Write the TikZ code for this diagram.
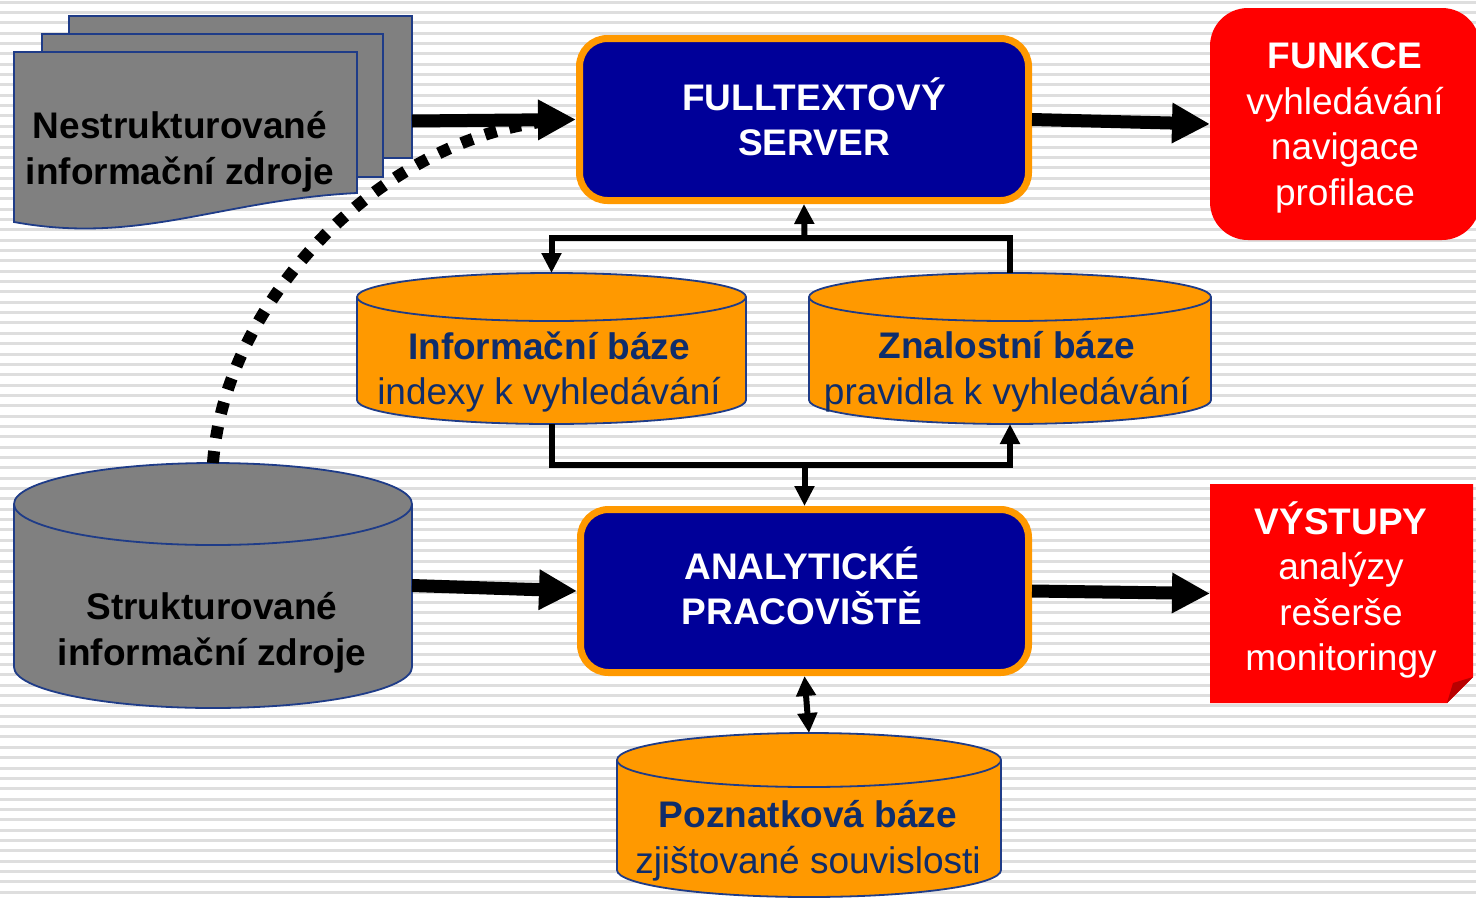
\documentclass[tikz,border=0pt]{standalone}
\usepackage{fontspec}
\setmainfont{Liberation Sans}
\usetikzlibrary{arrows.meta}
\definecolor{srvblue}{HTML}{000099}
\definecolor{orng}{HTML}{FF9900}
\definecolor{redbox}{HTML}{FF0000}
\definecolor{foldred}{HTML}{B80000}
\definecolor{navytext}{HTML}{0F2D6B}
\definecolor{outlineblue}{HTML}{1F3C88}
\definecolor{grayfill}{HTML}{808080}
\definecolor{stripegray}{HTML}{DEDEDE}
\newcommand\myfont{\fontsize{37}{45.5}\selectfont}
% cylinder: cx, rx, ytop-centre, ybottom-centre, ry, fill
\newcommand\mycyl[6]{%
  \fill[#6] ({#1-#2},#3) -- ({#1-#2},#4) arc[start angle=180,end angle=360,x radius=#2pt,y radius=#5pt] -- ({#1+#2},#3) -- cycle;
  \draw[cylline] ({#1-#2},#3) -- ({#1-#2},#4) arc[start angle=180,end angle=360,x radius=#2pt,y radius=#5pt] -- ({#1+#2},#3);
  \filldraw[cylline,fill=#6] (#1,#3) ellipse[x radius=#2pt,y radius=#5pt];
}
\begin{document}
\begin{tikzpicture}[x=1pt,y=-1pt,
  txt/.style={align=center,inner sep=0pt,font=\myfont},
  cylline/.style={draw=outlineblue,line width=1.8pt},
  docpage/.style={fill=grayfill,draw=outlineblue,line width=1.8pt},
  bluebox/.style={fill=srvblue,draw=orng,line width=7pt,rounded corners=28pt,
    minimum width=449pt,minimum height=162pt,inner sep=0pt},
  holder/.style={inner sep=0pt,outer sep=0pt},
  bigarrow/.style={line width=13pt,-{Triangle[length=38pt,width=38pt]}},
  conn/.style={line width=6pt,black},
  smalltip/.tip={Triangle[length=20pt,width=19pt]},
  dotline/.style={line width=12pt,dash pattern=on 12pt off 13pt}]
\useasboundingbox (0,0) rectangle (1476,898);
\clip (0,0) rectangle (1476,898);
\fill[white] (0,0) rectangle (1476,898);
\foreach \k in {0,...,87} {\fill[stripegray] (0,{0.6+\k*10.35}) rectangle (1476,{3.6+\k*10.35});}

% unstructured sources (stacked documents)
\filldraw[docpage] (69,16) rectangle (412,158);
\filldraw[docpage] (42,34) rectangle (383,177);
\filldraw[docpage] (14,52) -- (357,52) -- (357,193) .. controls (220,200) and (140,245) .. (14,222) -- cycle;
\coordinate (docout) at (412,121);
\node[txt,font=\myfont\bfseries] (nsT) at (180,152) {Nestrukturované\\informační zdroje};

% boxes
\node[bluebox] (server) at (804,119.5) {};
\node[bluebox,minimum width=448pt,minimum height=163pt] (anal) at (804.5,591) {};
\node[holder,fill=redbox,rounded corners=38pt,minimum width=270pt,minimum height=232pt] (funkce) at (1345,124) {};
\node[holder,minimum width=263pt,minimum height=219pt] (vys) at (1341.5,593.5) {};
\fill[redbox] (1210,484) -- (1473,484) -- (1473,677) -- (1447,703) -- (1210,703) -- cycle;
\fill[foldred] (1447,703) -- (1473,677) -- (1453,683) -- cycle;

% cylinders
\mycyl{551.5}{194.5}{297}{400}{24}{orng}
\node[holder,minimum width=389pt,minimum height=151pt] (ib) at (551.5,348.5) {};
\mycyl{1010}{201}{297}{400}{24}{orng}
\node[holder,minimum width=402pt,minimum height=151pt] (zb) at (1010,348.5) {};
\mycyl{809}{192}{760}{870}{27}{orng}
\node[holder,minimum width=384pt,minimum height=164pt] (pb) at (809,815) {};
\mycyl{213}{199}{504}{667}{41}{grayfill}
\node[holder,minimum width=398pt,minimum height=245pt] (sz) at (213,585.5) {};

% dotted link
\coordinate (dotend) at (548,121);
\draw[dotline] (sz.north) .. controls (225,300) and (380,140) .. (dotend);

% connectors
\coordinate (jt) at (804.5,238);
\coordinate (jb) at (804.5,465);
\draw[conn,-smalltip] (zb.north) -- (zb.north |- jt) -- (ib.north |- jt) -- (ib.north);
\draw[conn,-smalltip] (jt) -- (server.south);
\draw[conn,-smalltip] (ib.south) -- (ib.south |- jb) -- (zb.south |- jb) -- (zb.south);
\draw[conn,-smalltip] (jb) -- (anal.north);
\draw[conn,smalltip-smalltip] (anal.south) -- (pb.north);

% big arrows
\draw[bigarrow] (docout) -- (server.west);
\draw[bigarrow] (server.east) -- (funkce.west);
\draw[bigarrow] (sz.east) -- (anal.west);
\draw[bigarrow] (anal.east) -- (vys.west);

% texts
\node[txt,text=white,font=\myfont\bfseries] (srvT) at (814,117) {FULLTEXTOVÝ\\SERVER};
\node[txt,text=white,font=\myfont\bfseries] (anT) at (802,586) {ANALYTICKÉ\\PRACOVIŠTĚ};
\node[txt,text=white] (funT) at (1345,128) {\textbf{FUNKCE}\\vyhledávání\\navigace\\profilace};
\node[txt,text=white] (vysT) at (1341,590) {\textbf{VÝSTUPY}\\analýzy\\rešerše\\monitoringy};
\node[txt,text=navytext] (ibT) at (549,372) {\textbf{Informační báze}\\indexy k vyhledávání};
\node[txt,text=navytext] (zbT) at (1007,372) {\textbf{Znalostní báze}\\pravidla k vyhledávání};
\node[txt,text=navytext] (pbT) at (808,841) {\textbf{Poznatková báze}\\zjištované souvislosti};
\node[txt,font=\myfont\bfseries] (szT) at (212,633) {Strukturované\\informační zdroje};
\end{tikzpicture}
\end{document}
